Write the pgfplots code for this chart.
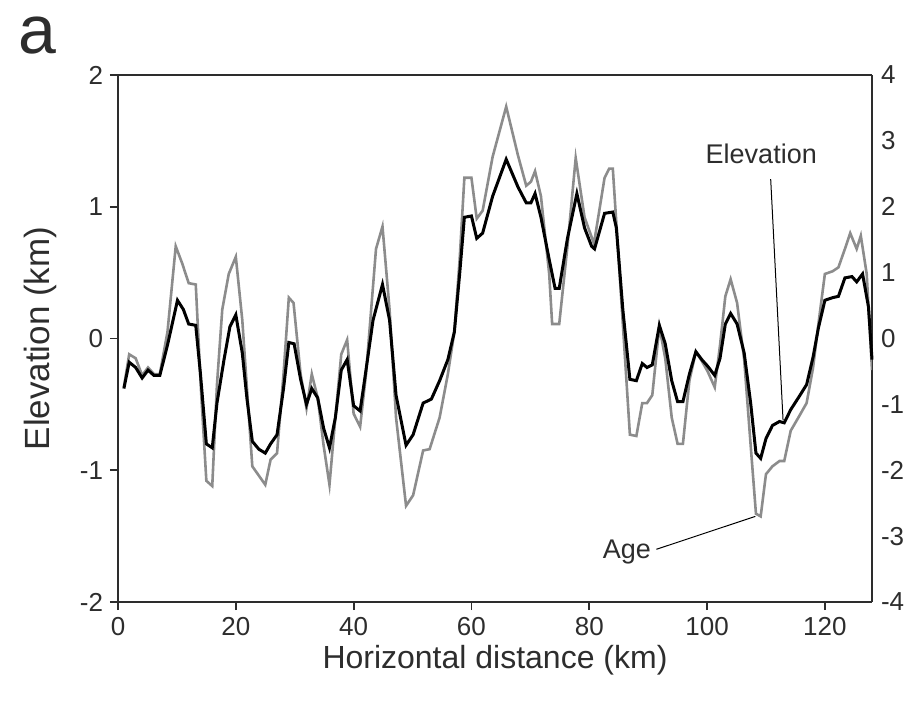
\documentclass[border=0pt]{standalone}
\usepackage{fontspec}
\setmainfont{Liberation Sans}
\usepackage{pgfplots}
\pgfplotsset{compat=1.18}
\definecolor{axisgray}{RGB}{45,45,45}
\definecolor{agegray}{RGB}{140,140,140}

\begin{document}
\begin{tikzpicture}
% fixed page extent
\path (-59bp,-52bp) rectangle (397bp,301bp);

% Age profile, right-hand axis (Ma)
\begin{axis}[
  scale only axis, width=377bp, height=263.5bp,
  xmin=0, xmax=128, ymin=-4, ymax=4,
  axis x line=none,
  axis y line*=right,
  axis line style={axisgray, line width=0.9bp},
  ytick={-4,-3,...,4},
  major tick length=0pt,
  yticklabel style={font=\fontsize{13bp}{15bp}\selectfont, text=axisgray, xshift=1bp},
  /pgf/number format/assume math mode=true,
]
\addplot[agegray, line width=1.3bp] coordinates {
(1.0,-0.74) (1.9,-0.24) (3.0,-0.30) (4.1,-0.56) (5.1,-0.44) (6.1,-0.54) (7.1,-0.54)
(8.4,0.10) (9.8,1.40) (10.9,1.14) (12.0,0.84) (13.2,0.82) (14.1,-0.80) (15.0,-2.16)
(16.0,-2.24) (16.8,-0.70) (17.7,0.44) (18.8,0.98) (20.0,1.24) (21.1,0.28) (22.0,-0.90)
(22.8,-1.94) (23.9,-2.08) (25.0,-2.22) (25.9,-1.84) (27.0,-1.74) (28.1,-0.54)
(29.0,0.62) (29.8,0.54) (31.0,-0.54) (32.0,-1.06) (32.9,-0.54) (33.9,-0.90)
(34.9,-1.62) (35.9,-2.22) (36.9,-1.20) (37.9,-0.24) (38.9,-0.02) (40.0,-1.14)
(41.1,-1.34) (42.1,-0.54) (43.8,1.36) (44.9,1.70) (46.1,0.44) (47.2,-1.20)
(48.9,-2.54) (50.1,-2.38) (51.8,-1.70) (52.9,-1.68) (54.6,-1.20) (56.0,-0.54)
(57.1,0.10) (58.0,1.20) (58.8,2.44) (60.0,2.44) (60.9,1.82) (61.9,1.94) (63.6,2.76)
(65.9,3.52) (67.9,2.78) (69.3,2.32) (70.1,2.38) (70.8,2.54) (71.8,2.16) (73.2,0.98)
(73.7,0.22) (74.9,0.22) (76.3,1.40) (77.7,2.74) (79.2,1.84) (80.8,1.44) (82.6,2.44)
(83.4,2.58) (84.0,2.58) (85.0,1.20) (86.9,-1.46) (88.0,-1.48) (89.0,-0.98)
(89.8,-0.98) (90.7,-0.86) (91.9,0.18) (92.9,-0.30) (94.0,-1.20) (95.0,-1.60)
(95.9,-1.60) (97.0,-0.64) (98.1,-0.20) (99.1,-0.34) (100.1,-0.50) (101.3,-0.74)
(102.2,-0.10) (103.1,0.64) (104.0,0.90) (105.1,0.54) (106.3,-0.32) (107.4,-1.62)
(108.3,-2.66) (109.1,-2.70) (110.0,-2.06) (111.1,-1.94) (112.3,-1.86) (113.1,-1.86)
(114.2,-1.40) (115.5,-1.20) (116.9,-0.98) (118.0,-0.44) (118.9,0.22) (120.0,0.98)
(121.3,1.02) (122.3,1.08) (123.4,1.36) (124.3,1.60) (125.4,1.36) (126.1,1.56)
(127.1,0.98) (128.0,-0.48)
};
\end{axis}

% Elevation profile, left-hand axis (km)
\begin{axis}[
  scale only axis, width=377bp, height=263.5bp,
  xmin=0, xmax=128, ymin=-2, ymax=2,
  axis x line*=bottom, axis y line*=left,
  axis line style={axisgray, line width=0.9bp},
  every tick/.style={axisgray, line width=0.9bp},
  tick align=outside, major tick length=4bp,
  xtick={0,20,...,120}, ytick={-2,-1,...,2},
  ticklabel style={font=\fontsize{13bp}{15bp}\selectfont, text=axisgray},
  /pgf/number format/assume math mode=true,
  xlabel={Horizontal distance (km)},
  ylabel={Elevation (km)},
  label style={text=axisgray},
  xlabel style={font=\fontsize{16bp}{19bp}\selectfont, at={(axis description cs:0.5,-0.110)}, anchor=center},
  ylabel style={font=\fontsize{17.5bp}{20bp}\selectfont, at={(axis description cs:-0.1035,0.5)}, anchor=center, rotate=0},
  clip=false,
]
\draw[axisgray, line width=0.9bp] (axis cs:0,2) -- (axis cs:128,2);
\addplot[black, line width=1.5bp] coordinates {
(1.0,-0.38) (1.9,-0.18) (3.0,-0.22) (4.1,-0.30) (5.1,-0.24) (6.1,-0.28) (7.1,-0.28)
(8.4,-0.05) (10.1,0.29) (11.1,0.22) (12.0,0.11) (13.2,0.10) (14.0,-0.27) (15.0,-0.80)
(16.0,-0.83) (16.8,-0.49) (18.0,-0.16) (19.0,0.09) (20.0,0.18) (21.1,-0.11)
(21.9,-0.46) (22.8,-0.78) (23.9,-0.84) (25.0,-0.87) (25.9,-0.80) (27.0,-0.73)
(28.1,-0.38) (29.0,-0.03) (29.9,-0.04) (31.0,-0.31) (32.0,-0.50) (32.9,-0.38)
(33.9,-0.45) (34.9,-0.68) (35.9,-0.83) (36.9,-0.60) (37.9,-0.24) (38.9,-0.16)
(40.0,-0.51) (41.1,-0.55) (42.1,-0.24) (43.3,0.14) (44.9,0.41) (46.1,0.14)
(47.2,-0.43) (48.9,-0.81) (50.1,-0.73) (51.8,-0.49) (53.2,-0.46) (54.6,-0.32)
(56.0,-0.16) (57.1,0.05) (58.0,0.49) (58.8,0.92) (60.0,0.93) (60.9,0.76) (61.9,0.80)
(63.6,1.08) (65.9,1.36) (67.9,1.15) (69.3,1.03) (70.1,1.03) (70.8,1.10) (71.8,0.92)
(73.2,0.60) (74.2,0.38) (74.9,0.38) (76.3,0.76) (77.9,1.10) (79.2,0.84) (80.4,0.70)
(80.9,0.68) (82.6,0.95) (84.0,0.96) (84.6,0.84) (85.7,0.22) (86.9,-0.31) (88.0,-0.32)
(89.0,-0.19) (89.8,-0.22) (90.7,-0.20) (91.9,0.10) (92.9,-0.04) (94.0,-0.32)
(95.0,-0.48) (95.9,-0.48) (97.0,-0.27) (98.1,-0.10) (99.1,-0.16) (100.1,-0.21)
(101.3,-0.28) (102.2,-0.15) (103.1,0.11) (104.0,0.19) (105.1,0.11) (106.3,-0.11)
(107.4,-0.49) (108.3,-0.87) (109.1,-0.91) (110.0,-0.76) (111.1,-0.66) (112.3,-0.63)
(113.1,-0.64) (114.2,-0.54) (115.5,-0.45) (116.9,-0.35) (118.0,-0.14) (118.9,0.08)
(120.0,0.29) (121.3,0.31) (122.3,0.32) (123.4,0.46) (124.6,0.47) (125.4,0.43)
(126.4,0.49) (127.4,0.24) (128.0,-0.16)
};
% leader lines and their labels
\draw[black, line width=0.5bp] (axis cs:110.8,1.21) -- (axis cs:112.9,-0.62);
\node[font=\fontsize{13.5bp}{16bp}\selectfont, text=axisgray] at (axis cs:109.2,1.40) {Elevation};
\draw[black, line width=0.5bp] (axis cs:91.4,-1.60) -- (axis cs:108.2,-1.35);
\node[font=\fontsize{13.5bp}{16bp}\selectfont, text=axisgray] at (axis cs:86.4,-1.62) {Age};
\end{axis}

\node[font=\fontsize{34bp}{38bp}\selectfont, text=axisgray] at (-40.5bp,283bp) {a};
\end{tikzpicture}
\end{document}
